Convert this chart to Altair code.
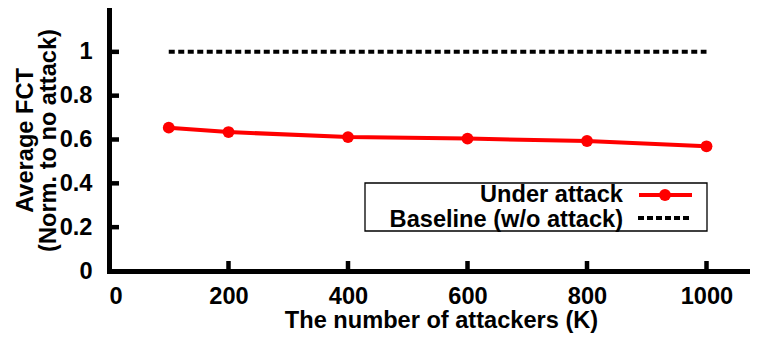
import altair as alt
import pandas as pd

# ---- data ----
attackers = [100, 200, 400, 600, 800, 1000]
fct_under_attack = [0.654, 0.634, 0.611, 0.604, 0.593, 0.569]
baseline_x = [100, 1000]
baseline_y = [1.0, 1.0]
x_ticks = [0, 200, 400, 600, 800, 1000]
y_ticks = [0, 0.2, 0.4, 0.6, 0.8, 1.0]
x_inner_ticks = [200, 400, 600, 800, 1000]
y_inner_ticks = [0.2, 0.4, 0.6, 0.8, 1.0]
legend_labels = ["Under attack", "Baseline (w/o attack)"]

FONT = "Liberation Sans"
FS = 23.6
RED = "#ff0000"

df = pd.DataFrame({"k": attackers, "fct": fct_under_attack})
base_df = pd.DataFrame({"k": baseline_x, "fct": baseline_y})
xt_df = pd.DataFrame({"k": x_inner_ticks})
yt_df = pd.DataFrame({"fct": y_inner_ticks})
leg_df = pd.DataFrame({"label": legend_labels})

xs = alt.Scale(domain=[0, 1072.8], nice=False, zero=False)
ys = alt.Scale(domain=[0, 1.2], nice=False, zero=False)

xaxis = alt.Axis(
    values=x_ticks, format="d", title="The number of attackers (K)", labelPadding=13.5,
    titleX=332, titleY=37.5, titleBaseline="top", titleAlign="center",
    labelOverlap=False,
)
yaxis = alt.Axis(
    values=y_ticks, format="~g", title=["Average FCT", "(Norm. to no attack)"],
    labelPadding=17, labelFlush=False, labelOverlap=False,
    titleAngle=270, titleX=-77, titleY=132, titleBaseline="alphabetic",
    titleAlign="center", titleLineHeight=23,
)

X = alt.X("k:Q", scale=xs, axis=xaxis)
Y = alt.Y("fct:Q", scale=ys, axis=yaxis)

baseline = alt.Chart(base_df).mark_line(
    color="black", strokeWidth=4, strokeDash=[6, 3.5], strokeCap="butt"
).encode(x=X, y=Y)

line = alt.Chart(df).mark_line(color=RED, strokeWidth=4).encode(x=X, y=Y)
pts = alt.Chart(df).mark_circle(color=RED, size=140, opacity=1).encode(x=X, y=Y)

xticks_m = alt.Chart(xt_df).mark_tick(
    orient="vertical", size=10, thickness=4.5, yOffset=-5, color="black", opacity=1
).encode(
    x=X,
    y=alt.Y(datum=0, scale=ys, axis=yaxis),
)
yticks_m = alt.Chart(yt_df).mark_tick(
    orient="horizontal", size=10, thickness=4.5, xOffset=5, color="black", opacity=1
).encode(
    y=Y,
    x=alt.X(datum=0, scale=xs, axis=xaxis),
)

# ---- legend ----
leg_box = alt.Chart(leg_df).transform_filter(
    alt.datum.label == legend_labels[0]
).mark_rect(fill="white", stroke="black", strokeWidth=1.3).encode(
    x=alt.value(256), x2=alt.value(598), y=alt.value(175), y2=alt.value(223)
)
leg_t1 = alt.Chart(leg_df).transform_filter(
    alt.datum.label == legend_labels[0]
).mark_text(
    align="right", baseline="alphabetic", font=FONT, fontSize=FS,
    fontWeight="bold", color="black"
).encode(text="label:N", x=alt.value(514), y=alt.value(194))
leg_t2 = alt.Chart(leg_df).transform_filter(
    alt.datum.label == legend_labels[1]
).mark_text(
    align="right", baseline="alphabetic", font=FONT, fontSize=FS,
    fontWeight="bold", color="black"
).encode(text="label:N", x=alt.value(514), y=alt.value(218.5))
leg_l1 = alt.Chart(leg_df).transform_filter(
    alt.datum.label == legend_labels[0]
).mark_rule(color=RED, strokeWidth=4).encode(
    x=alt.value(530), x2=alt.value(583), y=alt.value(187)
)
leg_p1 = alt.Chart(leg_df).transform_filter(
    alt.datum.label == legend_labels[0]
).mark_circle(color=RED, size=140, opacity=1).encode(
    x=alt.value(556), y=alt.value(187)
)
leg_l2 = alt.Chart(leg_df).transform_filter(
    alt.datum.label == legend_labels[1]
).mark_rule(color="black", strokeWidth=4, strokeDash=[6, 3], strokeCap="butt").encode(
    x=alt.value(529), x2=alt.value(583), y=alt.value(210)
)

chart = alt.layer(
    baseline, line, pts, xticks_m, yticks_m,
    leg_box, leg_t1, leg_t2, leg_l1, leg_p1, leg_l2,
).properties(
    width=641, height=263,
    autosize="none",
    padding={"left": 101, "top": 0, "right": 0, "bottom": 63},
).configure_view(stroke=None).configure_axis(
    domainColor="black", domainWidth=5, domainCap="square",
    ticks=False, tickSize=0, grid=False,
    labelFont=FONT, labelFontSize=FS, labelFontWeight="bold", labelColor="black",
    titleFont=FONT, titleFontSize=FS, titleFontWeight="bold", titleColor="black",
)

chart.save("out.html", embed_options={"renderer": "svg", "actions": False})
